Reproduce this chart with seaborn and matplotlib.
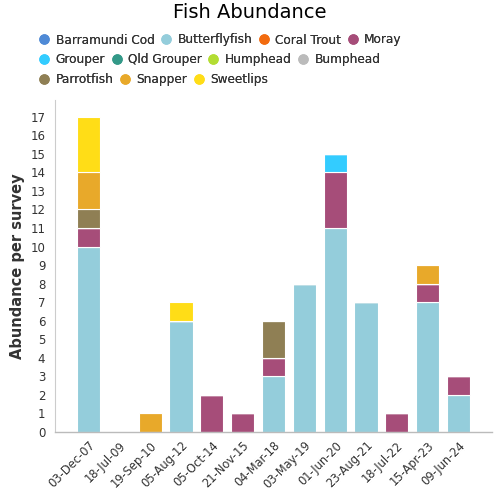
import matplotlib
matplotlib.use("Agg")
import matplotlib.pyplot as plt
from matplotlib.lines import Line2D
import seaborn as sns
import pandas as pd

dates = ["03-Dec-07", "18-Jul-09", "19-Sep-10", "05-Aug-12", "05-Oct-14", "21-Nov-15",
         "04-Mar-18", "03-May-19", "01-Jun-20", "23-Aug-21", "18-Jul-22", "15-Apr-23", "09-Jun-24"]

species = ["Barramundi Cod", "Butterflyfish", "Coral Trout", "Moray", "Grouper", "Qld Grouper",
           "Humphead", "Bumphead", "Parrotfish", "Snapper", "Sweetlips"]
colors = ["#4f8ad6", "#94cddb", "#f26b0f", "#a64d79", "#33ccff", "#339988",
          "#b3dd33", "#bbbbbb", "#8f7f54", "#e8a92a", "#ffdd17"]

barramundi = [0, 0, 0, 0, 0, 0, 0, 0, 0, 0, 0, 0, 0]
butterflyfish = [10, 0, 0, 6, 0, 0, 3, 8, 11, 7, 0, 7, 2]
coral_trout = [0, 0, 0, 0, 0, 0, 0, 0, 0, 0, 0, 0, 0]
moray = [1, 0, 0, 0, 2, 1, 1, 0, 3, 0, 1, 1, 1]
grouper = [0, 0, 0, 0, 0, 0, 0, 0, 1, 0, 0, 0, 0]
qld_grouper = [0, 0, 0, 0, 0, 0, 0, 0, 0, 0, 0, 0, 0]
humphead = [0, 0, 0, 0, 0, 0, 0, 0, 0, 0, 0, 0, 0]
bumphead = [0, 0, 0, 0, 0, 0, 0, 0, 0, 0, 0, 0, 0]
parrotfish = [1, 0, 0, 0, 0, 0, 2, 0, 0, 0, 0, 0, 0]
snapper = [2, 0, 1, 0, 0, 0, 0, 0, 0, 0, 0, 1, 0]
sweetlips = [3, 0, 0, 1, 0, 0, 0, 0, 0, 0, 0, 0, 0]

series = [barramundi, butterflyfish, coral_trout, moray, grouper, qld_grouper,
          humphead, bumphead, parrotfish, snapper, sweetlips]

rows = []
for sp, vals in zip(species, series):
    for i, v in enumerate(vals):
        rows.append({"pos": i, "species": sp, "count": v})
df = pd.DataFrame(rows)

sns.set_theme(style="white")
plt.rcParams["font.family"] = ["DejaVu Sans"]

fig = plt.figure(figsize=(5, 5), dpi=100)
ax = fig.add_axes([0.11, 0.136, 0.874, 0.664])

palette = dict(zip(species, colors))
sns.histplot(data=df, x="pos", hue="species", weights="count", multiple="stack",
             discrete=True, shrink=0.75, hue_order=species[::-1], palette=palette,
             alpha=1, edgecolor="white", linewidth=0.8, legend=False, ax=ax)

ax.set_xlim(-1.09, 13.09)
ax.set_ylim(0, 17.9)
ax.set_yticks(range(0, 18))
ax.set_xticks(range(len(dates)))
ax.set_xticklabels(dates, rotation=45, ha="right", rotation_mode="anchor", fontsize=8.3, color="#333333")
ax.tick_params(axis="y", labelsize=8.5, colors="#333333", length=0, pad=7)
ax.tick_params(axis="x", length=2, color="#333333", pad=3)
ax.set_xlabel("")
ax.set_ylabel("Abundance per survey", fontsize=10.5, fontweight="bold", color="#333333", labelpad=4)
for s in ["top", "right"]:
    ax.spines[s].set_visible(False)
ax.spines["left"].set_color("#cccccc")
ax.spines["bottom"].set_color("#bbbbbb")
ax.spines["left"].set_linewidth(0.8)
ax.spines["bottom"].set_linewidth(1.0)

fig.text(0.5, 0.974, "Fish Abundance", ha="center", va="center", fontsize=14, color="black")

rows_leg = [species[0:4], species[4:8], species[8:11]]
ys = [0.920, 0.881, 0.841]
for names, y in zip(rows_leg, ys):
    handles = [Line2D([], [], marker="o", linestyle="", markersize=6.5,
                      markerfacecolor=palette[n], markeredgecolor=palette[n]) for n in names]
    leg = fig.legend(handles, names, loc="center left", bbox_to_anchor=(0.08, y),
                     ncol=len(names), frameon=False, fontsize=8.7, handlelength=0.7,
                     handletextpad=0.6, columnspacing=0.6, borderpad=0, borderaxespad=0,
                     labelcolor="#333333")
    fig.add_artist(leg)

fig.savefig("out.png", dpi=100)
